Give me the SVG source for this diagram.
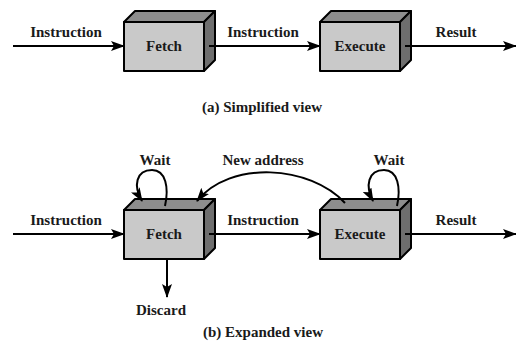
<svg xmlns="http://www.w3.org/2000/svg" width="516" height="343" viewBox="0 0 516 343">
  <defs>
    <marker id="arrow" markerWidth="14" markerHeight="10" refX="13" refY="5" orient="auto" markerUnits="userSpaceOnUse">
      <path d="M0,0 L14,5 L0,10 L3,5 Z" fill="#000"/>
    </marker>
    <!-- 3D block: front face, top face, right face -->
    <g id="block">
      <polygon class="top" points="0,0 11,-11 91,-11 80,0"/>
      <polygon class="side" points="80,0 91,-11 91,38 80,49"/>
      <rect class="front" x="0" y="0" width="80" height="49"/>
    </g>
  </defs>
  <style>
    .front { fill: #c9c9c9; stroke: #000; stroke-width: 2; stroke-linejoin: round; }
    .top { fill: #8d8d8d; stroke: #000; stroke-width: 2; stroke-linejoin: round; }
    .side { fill: #6e6e6e; stroke: #000; stroke-width: 2; stroke-linejoin: round; }
    .wire { fill: none; stroke: #000; stroke-width: 2; marker-end: url(#arrow); }
    .lbl { font-family: 'Liberation Serif', 'DejaVu Serif', serif; font-weight: bold; font-size: 15px; fill: #1a1a1a; text-anchor: middle; }
  </style>
  <rect width="516" height="343" fill="#fff"/>

  <!-- (a) simplified view -->
  <g id="fetch-a">
    <use href="#block" x="124" y="22"/>
    <text class="lbl" x="164" y="51">Fetch</text>
  </g>
  <g id="execute-a">
    <use href="#block" x="320" y="22"/>
    <text class="lbl" x="360" y="51">Execute</text>
  </g>
  <g id="connectors-a">
    <line class="wire" x1="13" y1="46" x2="124" y2="46"/>
    <line class="wire" x1="209" y1="46" x2="320" y2="46"/>
    <line class="wire" x1="405" y1="46" x2="516" y2="46"/>
  </g>
  <g id="labels-a">
    <text class="lbl" x="66" y="37">Instruction</text>
    <text class="lbl" x="263" y="37">Instruction</text>
    <text class="lbl" x="456" y="37">Result</text>
    <text class="lbl" x="262" y="112">(a) Simplified view</text>
  </g>

  <!-- (b) expanded view -->
  <g id="fetch-b">
    <use href="#block" x="124" y="210"/>
    <text class="lbl" x="164" y="239">Fetch</text>
  </g>
  <g id="execute-b">
    <use href="#block" x="320" y="210"/>
    <text class="lbl" x="360" y="239">Execute</text>
  </g>
  <g id="connectors-b">
    <line class="wire" x1="13" y1="234" x2="124" y2="234"/>
    <line class="wire" x1="209" y1="234" x2="320" y2="234"/>
    <line class="wire" x1="405" y1="234" x2="516" y2="234"/>
    <line class="wire" x1="167" y1="259" x2="167" y2="297"/>
    <!-- wait loops -->
    <path class="wire" d="M165,206 C169,188 166,170 152,170 C136,170 133,186 142,201"/>
    <path class="wire" d="M397,206 C401,188 398,170 384,170 C368,170 365,186 373,201"/>
    <!-- new address feedback -->
    <path class="wire" d="M345,203 C310,165 230,160 197,201"/>
  </g>
  <g id="labels-b">
    <text class="lbl" x="66" y="225">Instruction</text>
    <text class="lbl" x="263" y="225">Instruction</text>
    <text class="lbl" x="456" y="225">Result</text>
    <text class="lbl" x="155" y="165">Wait</text>
    <text class="lbl" x="389" y="165">Wait</text>
    <text class="lbl" x="263" y="165">New address</text>
    <text class="lbl" x="161" y="315">Discard</text>
    <text class="lbl" x="263" y="337">(b) Expanded view</text>
  </g>
</svg>
